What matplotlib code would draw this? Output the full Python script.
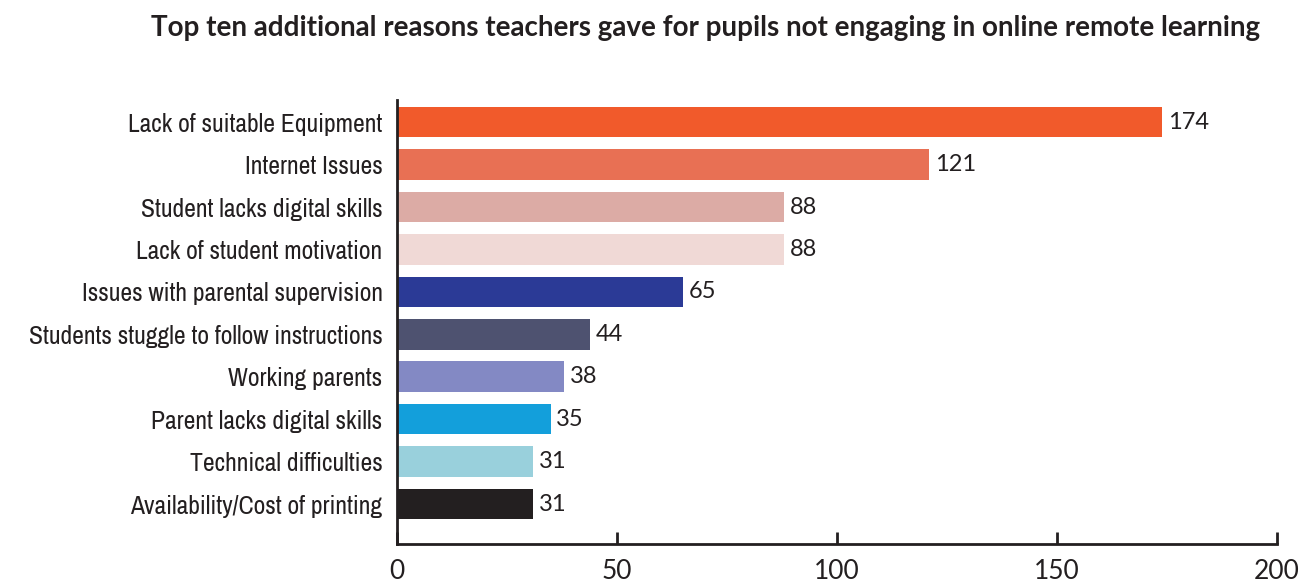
import matplotlib.pyplot as plt
from matplotlib import font_manager

reasons = ["Lack of suitable Equipment", "Internet Issues", "Student lacks digital skills",
           "Lack of student motivation", "Issues with parental supervision",
           "Students stuggle to follow instructions", "Working parents",
           "Parent lacks digital skills", "Technical difficulties",
           "Availability/Cost of printing"]
counts = [174, 121, 88, 88, 65, 44, 38, 35, 31, 31]
colors = ["#F15A2B", "#E87054", "#DCABA5", "#F0D9D6", "#2B3A96",
          "#4E5270", "#8389C4", "#139FDB", "#99D0DC", "#231F20"]
xticks = [0, 50, 100, 150, 200]

INK = "#231F20"


def narrow_font():
    # prefer a narrow/condensed face for the category labels
    for f in font_manager.fontManager.ttflist:
        if "Narrow" in f.name and f.weight in (400, "normal", "regular") and f.style == "normal":
            return font_manager.FontProperties(fname=f.fname)
    for f in font_manager.fontManager.ttflist:
        if f.stretch == "condensed" and f.style == "normal" and f.weight in (400, "normal"):
            return font_manager.FontProperties(fname=f.fname)
    return font_manager.FontProperties(family="Lato")


fig = plt.figure(figsize=(13, 5.83), dpi=100)
ax = fig.add_axes([0.305, 0.067, 0.677, 0.762])

pos = list(range(len(reasons)))
ax.barh(pos, counts, height=0.72, color=colors)
for y, v in zip(pos, counts):
    ax.text(v + 1.3, y, str(v), va="center", ha="left", fontsize=17,
            family="Lato", color=INK)

ax.set_ylim(9.94, -0.53)
ax.set_xlim(0, 200)
ax.set_yticks(pos)
labels = ax.set_yticklabels(reasons, fontproperties=narrow_font(), color=INK)
ax.tick_params(axis="y", length=0, pad=10)
ax.set_xticks(xticks)
ax.set_xticklabels([str(t) for t in xticks], family="Lato", fontsize=19, color=INK)
ax.tick_params(axis="x", direction="in", length=9, width=2, pad=11, color=INK)

for s in ["top", "right"]:
    ax.spines[s].set_visible(False)
for s in ["left", "bottom"]:
    ax.spines[s].set_linewidth(2)
    ax.spines[s].set_color(INK)

# size the labels so the longest one spans about 355 px
renderer = fig.canvas.get_renderer()
for t in labels:
    t.set_fontsize(16)
widest = max(t.get_window_extent(renderer).width for t in labels)
for t in labels:
    t.set_fontsize(16 * 355 / widest)

fig.text(0.543, 0.952, "Top ten additional reasons teachers gave for pupils not engaging in online remote learning",
         ha="center", va="center", fontsize=20, fontweight="bold", family="Lato", color=INK)

fig.savefig("out.png", dpi=100)
